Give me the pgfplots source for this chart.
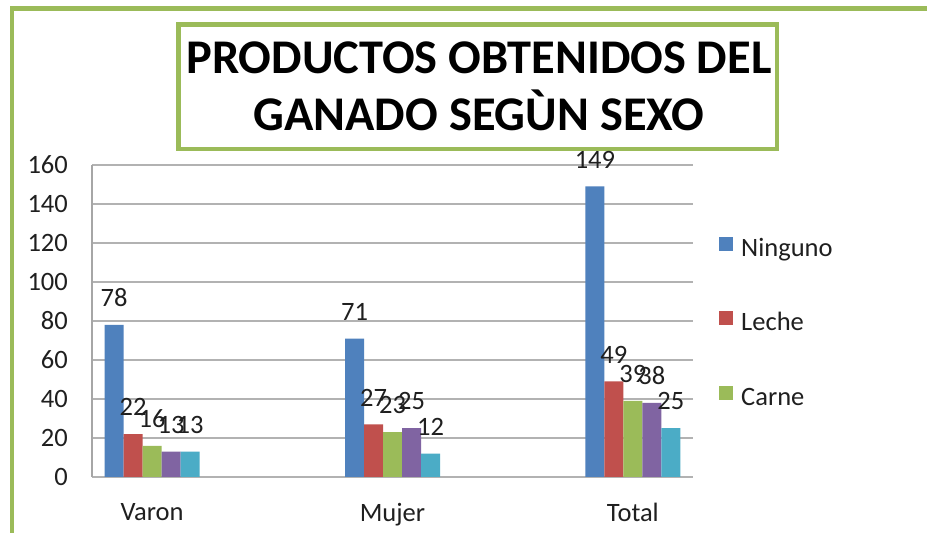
\documentclass[border=0pt]{standalone}
\usepackage{fontspec}
\setmainfont{Carlito}
\usepackage{pgfplots}
\pgfplotsset{compat=1.18}
\definecolor{fgreen}{HTML}{9BBB59}
\definecolor{cblue}{HTML}{4F81BD}
\definecolor{cred}{HTML}{C0504D}
\definecolor{cgreen}{HTML}{9BBB59}
\definecolor{cpurple}{HTML}{8064A2}
\definecolor{ccyan}{HTML}{4BACC6}
\definecolor{txt}{HTML}{1F1F1F}
\begin{document}
\begin{tikzpicture}[x=1pt,y=1pt]
\useasboundingbox (0,0) rectangle (927,533);
\fill[white] (0,0) rectangle (927,533);
% outer frame
\draw[fgreen, line width=4.5pt] (12,0) -- (12,524.5) -- (927,524.5);
% title box
\draw[fgreen, line width=4.5pt] (178.5,533-24.7) rectangle (777,533-149);
\node[anchor=base, inner sep=0pt, font=\fontsize{48.4}{57}\selectfont\bfseries] at (479,533-73.5) {PRODUCTOS OBTENIDOS DEL};
\node[anchor=base, inner sep=0pt, font=\fontsize{48.4}{57}\selectfont\bfseries] at (479,533-130.5) {GANADO SEGÙN SEXO};
\begin{axis}[
  at={(92pt,56pt)}, anchor=south west,
  width=601pt, height=312pt, scale only axis,
  xmin=-0.25, xmax=2.25, ymin=0, ymax=160,
  axis y line*=left, axis x line*=bottom,
  x axis line style={draw=none},
  y axis line style={draw=gray!70, line width=1.2pt},
  ytick={0,20,...,160},
  xtick={0,1,2}, xticklabels={Varon,Mujer,Total},
  major tick length=0pt,
  ymajorgrids, grid style={gray!60, line width=1.1pt},
  /pgf/number format/assume math mode=true,
  yticklabel style={anchor=east, inner sep=0pt, xshift=-24pt, font=\fontsize{26.5}{30}\selectfont, text=txt},
  xticklabel style={anchor=north, inner sep=0pt, yshift=-26pt, font=\fontsize{26.5}{30}\selectfont, text=txt},
  ybar=0pt, bar width=19pt,
  nodes near coords,
  every node near coord/.append style={anchor=south, inner sep=0pt, yshift=18pt, font=\fontsize{26.5}{30}\selectfont, text=txt},
  legend style={at={(axis description cs:1.0433,0.7702)}, anchor=north west, draw=none, fill=none, inner sep=0pt, row sep=49.5pt, column sep=8pt, nodes={inner sep=0pt, text height=17.5pt, text depth=5.5pt, font=\fontsize{26.5}{30}\selectfont, text=txt}},
  legend cell align=left,
  legend image code/.code={\fill[#1] (0pt,-0.5pt) rectangle (14pt,13.5pt);},
  clip=false,
]
\addplot[fill=cblue, draw=none] coordinates {(0,78) (1,71) (2,149)};
\addplot[fill=cred, draw=none] coordinates {(0,22) (1,27) (2,49)};
\addplot[fill=cgreen, draw=none] coordinates {(0,16) (1,23) (2,39)};
\addplot[fill=cpurple, draw=none] coordinates {(0,13) (1,25) (2,38)};
\addplot[fill=ccyan, draw=none] coordinates {(0,13) (1,12) (2,25)};
\legend{Ninguno,Leche,Carne}
\end{axis}
\end{tikzpicture}
\end{document}
